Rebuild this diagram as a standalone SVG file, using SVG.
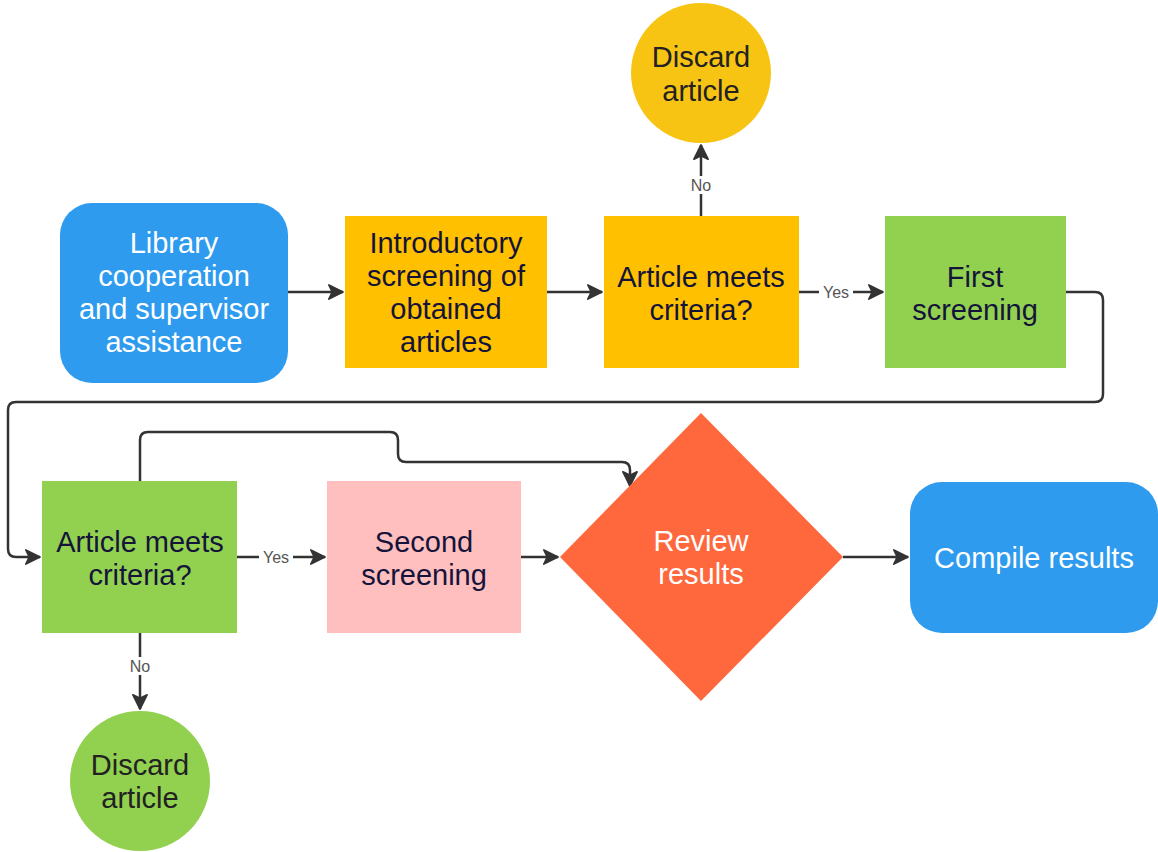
<svg xmlns="http://www.w3.org/2000/svg" width="1158" height="852" viewBox="0 0 1158 852">
<style>
.t{font-family:"Liberation Sans",Arial,sans-serif;font-size:29px;text-anchor:middle;fill:#14143a}
.w{fill:#ffffff}
.d{fill:#222222}
.lbl{font-family:"Liberation Sans",Arial,sans-serif;font-size:16px;text-anchor:middle;fill:#555555}
.c{fill:none;stroke:#333333;stroke-width:2.5}
</style>
<defs>
<marker id="ah" viewBox="0 0 12 12" refX="11" refY="6" markerWidth="17" markerHeight="17" markerUnits="userSpaceOnUse" orient="auto">
<path d="M1,1 L11,6 L1,11 L3.5,6 z" fill="#333333" stroke="#333333" stroke-width="1.2" stroke-linejoin="round"/>
</marker>
</defs>
<rect width="1158" height="852" fill="#ffffff"/>
<g id="connectors">
<path class="c" d="M288,292 H343" marker-end="url(#ah)"/>
<path class="c" d="M547,292 H602" marker-end="url(#ah)"/>
<path class="c" d="M701,216 V145" marker-end="url(#ah)"/>
<path class="c" d="M799,292 H883" marker-end="url(#ah)"/>
<path class="c" d="M1066,292 H1095 Q1103,292 1103,300 V394 Q1103,402 1095,402 H16 Q8,402 8,410 V549 Q8,557 16,557 H40" marker-end="url(#ah)"/>
<path class="c" d="M140,481 V440 Q140,432 148,432 H390 Q398,432 398,440 V454 Q398,462 406,462 H622 Q630,462 630,470 V486" marker-end="url(#ah)"/>
<path class="c" d="M237,557 H325" marker-end="url(#ah)"/>
<path class="c" d="M140,633 V709" marker-end="url(#ah)"/>
<path class="c" d="M521,557 H558" marker-end="url(#ah)"/>
<path class="c" d="M843,557 H908" marker-end="url(#ah)"/>
<rect x="687" y="176" width="28" height="18" fill="#ffffff"/>
<text class="lbl" x="701" y="191">No</text>
<rect x="819" y="283" width="34" height="18" fill="#ffffff"/>
<text class="lbl" x="836" y="298">Yes</text>
<rect x="259" y="548" width="34" height="18" fill="#ffffff"/>
<text class="lbl" x="276" y="563">Yes</text>
<rect x="126" y="657" width="28" height="18" fill="#ffffff"/>
<text class="lbl" x="140" y="672">No</text>
</g>
<g id="library">
<rect x="60" y="203" width="228" height="180" rx="32" fill="#2E9BEF"/>
<text class="t w" x="174" y="253">Library</text>
<text class="t w" x="174" y="286">cooperation</text>
<text class="t w" x="174" y="319">and supervisor</text>
<text class="t w" x="174" y="352">assistance</text>
</g>
<g id="intro">
<rect x="345" y="216" width="202" height="152" fill="#FFC000"/>
<text class="t" x="446" y="253">Introductory</text>
<text class="t" x="446" y="286">screening of</text>
<text class="t" x="446" y="319">obtained</text>
<text class="t" x="446" y="352">articles</text>
</g>
<g id="criteria1">
<rect x="604" y="216" width="195" height="152" fill="#FFC000"/>
<text class="t" x="701" y="287">Article meets</text>
<text class="t" x="701" y="320">criteria?</text>
</g>
<g id="discard1">
<circle cx="701" cy="73" r="70" fill="#F8C414"/>
<text class="t d" x="701" y="67">Discard</text>
<text class="t d" x="701" y="101">article</text>
</g>
<g id="first">
<rect x="885" y="216" width="181" height="152" fill="#92D050"/>
<text class="t" x="975" y="287">First</text>
<text class="t" x="975" y="320">screening</text>
</g>
<g id="criteria2">
<rect x="42" y="481" width="195" height="152" fill="#92D050"/>
<text class="t" x="140" y="552">Article meets</text>
<text class="t" x="140" y="585">criteria?</text>
</g>
<g id="second">
<rect x="327" y="481" width="194" height="152" fill="#FFBFBF"/>
<text class="t" x="424" y="552">Second</text>
<text class="t" x="424" y="585">screening</text>
</g>
<g id="review">
<polygon points="701,413 843,557 701,701 560,557" fill="#FF673D"/>
<text class="t w" x="701" y="551">Review</text>
<text class="t w" x="701" y="584">results</text>
</g>
<g id="compile">
<rect x="910" y="482" width="248" height="151" rx="32" fill="#2E9BEF"/>
<text class="t w" x="1034" y="568">Compile results</text>
</g>
<g id="discard2">
<circle cx="140" cy="781" r="70" fill="#92D050"/>
<text class="t d" x="140" y="775">Discard</text>
<text class="t d" x="140" y="808">article</text>
</g>
</svg>
